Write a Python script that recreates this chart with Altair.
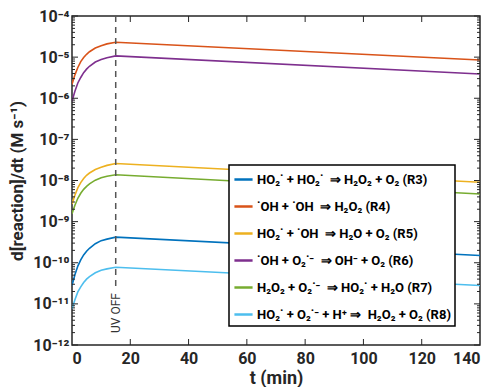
import altair as alt
import pandas as pd

# ---------------- data ----------------
t_min = [0, 1, 2, 3, 4, 5, 6, 8, 10, 12, 15, 140]

r3 = [2.8e-11, 5.1e-11, 8.3e-11, 1.17e-10, 1.55e-10, 1.9e-10, 2.25e-10, 2.9e-10, 3.45e-10, 3.75e-10, 4.2e-10, 1.5e-10]
r4 = [2.2e-6, 3.7e-6, 5.6e-6, 7.8e-6, 9.8e-6, 1.17e-5, 1.35e-5, 1.66e-5, 1.9e-5, 2.1e-5, 2.3e-5, 8.5e-6]
r5 = [2.7e-9, 4.4e-9, 6.6e-9, 8.9e-9, 1.12e-8, 1.34e-8, 1.52e-8, 1.85e-8, 2.1e-8, 2.33e-8, 2.6e-8, 9.1e-9]
r6 = [8.5e-7, 1.48e-6, 2.35e-6, 3.2e-6, 4.2e-6, 5.1e-6, 6.0e-6, 7.6e-6, 8.7e-6, 9.7e-6, 1.07e-5, 3.9e-6]
r7 = [1.55e-9, 2.5e-9, 3.7e-9, 4.9e-9, 6.1e-9, 7.2e-9, 8.3e-9, 1.02e-8, 1.17e-8, 1.27e-8, 1.38e-8, 4.7e-9]
r8 = [7.6e-12, 1.26e-11, 1.95e-11, 2.6e-11, 3.3e-11, 4.0e-11, 4.6e-11, 5.7e-11, 6.6e-11, 7.1e-11, 7.8e-11, 2.8e-11]

NB = "\u00a0"
reaction_labels = [
    "HO₂˙ + HO₂˙" + NB * 2 + "⇒" + NB + "H₂O₂ + O₂ (R3)",
    "˙OH + ˙OH" + NB * 2 + "⇒" + NB + "H₂O₂ (R4)",
    "HO₂˙ + ˙OH" + NB * 2 + "⇒" + NB + "H₂O + O₂ (R5)",
    "˙OH + O₂˙⁻" + NB * 2 + "⇒" + NB + "OH⁻ + O₂ (R6)",
    "H₂O₂ + O₂˙⁻" + NB * 2 + "⇒" + NB + "HO₂˙ + H₂O (R7)",
    "HO₂˙ + O₂˙⁻ + H⁺" + NB + "⇒" + NB * 2 + "H₂O₂ + O₂ (R8)",
]
series = [r3, r4, r5, r6, r7, r8]
colors = ["#0072BD", "#D95319", "#EDB120", "#7E2F8E", "#77AC30", "#4DBEEE"]

y_major = [1e-12, 1e-11, 1e-10, 1e-9, 1e-8, 1e-7, 1e-6, 1e-5, 1e-4]
y_labels = ["10⁻¹²", "10⁻¹¹", "10⁻¹⁰", "10⁻⁹", "10⁻⁸", "10⁻⁷", "10⁻⁶", "10⁻⁵", "10⁻⁴"]
x_ticks = [0, 20, 40, 60, 80, 100, 120, 140]

uv_off_t = 15
uv_line_top = 1e-4
uv_line_bottom = 2.3e-11
uv_text_y = 6e-12

# ---------------- tables ----------------
rows = []
for lab, vals in zip(reaction_labels, series):
    for t, v in zip(t_min, vals):
        rows.append({"t": t, "rate": v, "reaction": lab})
df = pd.DataFrame(rows)

minor = []
for e in range(-12, -4):
    for k in range(2, 10):
        minor.append(k * 10.0 ** e)
df_major = pd.DataFrame({"v": y_major})
df_minor = pd.DataFrame({"v": minor})
df_xt = pd.DataFrame({"t": x_ticks[1:-1]})

W, H = 408, 329
FONT = "Roboto"
TXT = "#262626"

xscale = alt.Scale(domain=[0, 140], nice=False)
yscale = alt.Scale(type="log", domain=[1e-12, 1e-4], nice=False)

label_expr = "[" + ",".join("'" + s + "'" for s in y_labels) + "][round(log(datum.value)/LN10)+12]"

xaxis = alt.Axis(values=x_ticks, ticks=False, domain=False, grid=False,
                 labelFont=FONT, labelFontSize=16, labelFontWeight="bold",
                 labelColor=TXT, labelPadding=5,
                 titleFont=FONT, titleFontSize=18, titleFontWeight="bold",
                 titleColor=TXT, titlePadding=3)
yaxis = alt.Axis(values=y_major, labelExpr=label_expr, ticks=False, domain=False, grid=False,
                 labelFont=FONT, labelFontSize=16, labelFontWeight="bold",
                 labelColor=TXT, labelPadding=3,
                 titleFont=FONT, titleFontSize=17, titleFontWeight="bold",
                 titleColor=TXT, titlePadding=6)
XT = "t (min)"
YT = "d[reaction]/dt (M s⁻¹)"


def X(field):
    return alt.X(field, scale=xscale, axis=xaxis, title=XT)


def Y(field):
    return alt.Y(field, scale=yscale, axis=yaxis, title=YT)


lines = alt.Chart(df).mark_line(strokeWidth=1.6, clip=True).encode(
    x=X("t:Q"),
    y=Y("rate:Q"),
    color=alt.Color("reaction:N", sort=reaction_labels,
                    scale=alt.Scale(domain=reaction_labels, range=colors),
                    legend=alt.Legend(title=None, orient="none", legendX=157, legendY=149,
                                      strokeColor="black", fillColor="white", padding=4,
                                      labelFont=FONT, labelFontSize=13, labelFontWeight="bold",
                                      labelColor="black", labelLimit=500, labelOffset=3,
                                      symbolType="stroke", symbolStrokeWidth=2.5, symbolSize=330,
                                      symbolOffset=0, rowPadding=9)),
    order=alt.Order("t:Q"),
)


# inward tick marks (major / minor) on left and right, majors on top and bottom
def yticks(data, x0, x1):
    return alt.Chart(data).mark_rule(color=TXT, strokeWidth=1).encode(
        y=Y("v:Q"), x=alt.value(x0), x2=alt.value(x1))


def xticks(y0, y1):
    return alt.Chart(df_xt).mark_rule(color=TXT, strokeWidth=1).encode(
        x=X("t:Q"), y=alt.value(y0), y2=alt.value(y1))


tick_layers = [
    yticks(df_major, 0, 6), yticks(df_minor, 0, 3),
    yticks(df_major, W, W - 6), yticks(df_minor, W, W - 3),
    xticks(0, 6), xticks(H, H - 6),
]

uv_line = alt.Chart(pd.DataFrame({"t": [uv_off_t], "y1": [uv_line_top], "y2": [uv_line_bottom]})).mark_rule(
    color="#555555", strokeWidth=1.5, strokeDash=[6, 5]).encode(
    x=X("t:Q"), y=Y("y1:Q"), y2="y2:Q")

uv_text = alt.Chart(pd.DataFrame({"t": [uv_off_t], "y": [uv_text_y], "s": ["UV OFF"]})).mark_text(
    angle=270, font=FONT, fontSize=12, color="#333333", align="center", baseline="middle").encode(
    x=X("t:Q"), y=Y("y:Q"), text="s:N")

chart = alt.layer(lines, uv_line, uv_text, *tick_layers).properties(
    width=W, height=H, background="white", padding=0
).configure_view(stroke=TXT, strokeWidth=1.5).configure_legend(strokeWidth=1.5)

chart.save("out.html", embed_options={"renderer": "svg", "actions": False})
